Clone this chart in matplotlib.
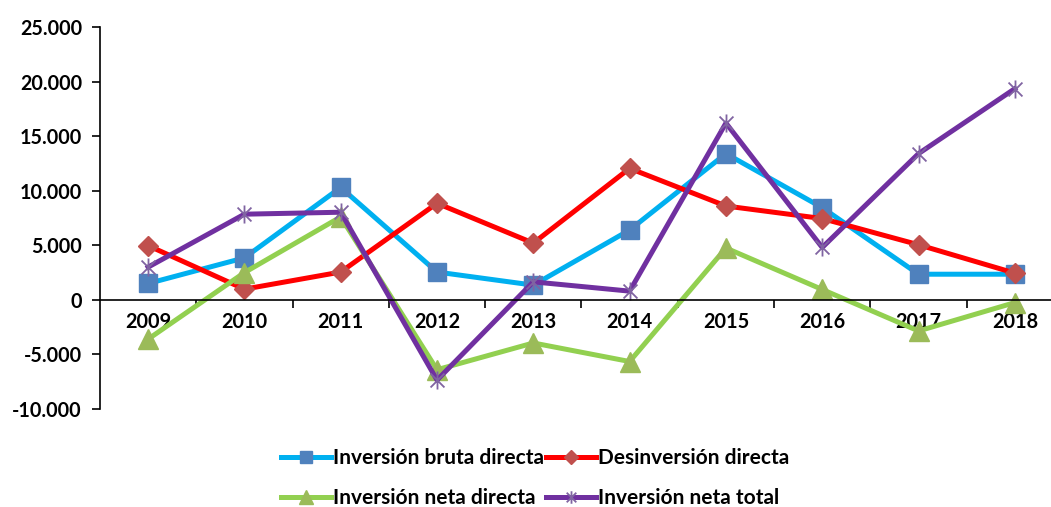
import numpy as np
import matplotlib.pyplot as plt
from matplotlib.path import Path
from matplotlib.ticker import FuncFormatter, FixedLocator

plt.rcParams['font.family'] = ['Lato', 'DejaVu Sans']
plt.rcParams['font.weight'] = 'bold'

years = ['2009', '2010', '2011', '2012', '2013', '2014', '2015', '2016', '2017', '2018']
bruta = [1500, 3850, 10300, 2550, 1350, 6400, 13400, 8450, 2350, 2350]
desinversion = [4970, 980, 2550, 8850, 5200, 12050, 8600, 7450, 5050, 2450]
neta_directa = [-3600, 2500, 7600, -6400, -3950, -5650, 4750, 950, -2850, -250]
neta_total = [3000, 7850, 8030, -7350, 1650, 800, 16200, 4800, 13400, 19350]

# marcador tipo estrella de Excel (X + linea vertical)
star = Path([(-1, -1), (1, 1), (-1, 1), (1, -1), (0, -1.3), (0, 1.3)],
            [Path.MOVETO, Path.LINETO, Path.MOVETO, Path.LINETO, Path.MOVETO, Path.LINETO])

fig = plt.figure(figsize=(10.51, 5.07), dpi=100)
ax = fig.add_axes([0.0951, 0.1933, 0.9163, 0.7534])

x = np.arange(len(years))
l1, = ax.plot(x, bruta, color='#00B0F0', lw=3.6, marker='s', ms=13,
              mfc='#4F81BD', mec='#4F81BD', label='Inversión bruta directa')
l2, = ax.plot(x, desinversion, color='#FF0000', lw=3.6, marker='D', ms=10,
              mfc='#C0504D', mec='#C0504D', label='Desinversión directa')
l3, = ax.plot(x, neta_directa, color='#92D050', lw=3.6, marker='^', ms=14,
              mfc='#9BBB59', mec='#9BBB59', label='Inversión neta directa')
l4, = ax.plot(x, neta_total, color='#7030A0', lw=3.6, marker=star, ms=13, mew=1.3,
              mfc='none', mec='#8064A2', label='Inversión neta total')

ax.set_xlim(-0.5, 9.5)
ax.set_ylim(-10000, 25000)
ax.set_yticks(np.arange(-10000, 25001, 5000))
ax.yaxis.set_major_formatter(FuncFormatter(lambda v, p: f'{int(v):,}'.replace(',', '.')))

ax.set_xticks(x)
ax.set_xticklabels(years)
ax.xaxis.set_minor_locator(FixedLocator(np.arange(0.5, 9.5, 1)))
ax.tick_params(axis='x', which='major', length=0, pad=9, labelsize=14.3)
ax.tick_params(axis='x', which='minor', length=6, width=1.2, direction='out')
ax.tick_params(axis='y', length=6, width=1.2, labelsize=14.2, pad=7)

ax.spines['top'].set_visible(False)
ax.spines['right'].set_visible(False)
ax.spines['bottom'].set_position(('data', 0))
ax.spines['left'].set_linewidth(1.2)
ax.spines['bottom'].set_linewidth(1.2)

# orden por filas como en Excel
leg = fig.legend([l1, l3, l2, l4], [l1.get_label(), l3.get_label(), l2.get_label(), l4.get_label()],
                 loc='upper center', bbox_to_anchor=(0.509, 0.153), ncol=2, frameon=False,
                 fontsize=15, handlelength=2.4, handletextpad=0.1, columnspacing=0.1,
                 labelspacing=0.95)
for h, ms in zip(leg.legend_handles, [9, 10, 7, 9]):
    h.set_markersize(ms)

fig.savefig('out.png', dpi=100)
